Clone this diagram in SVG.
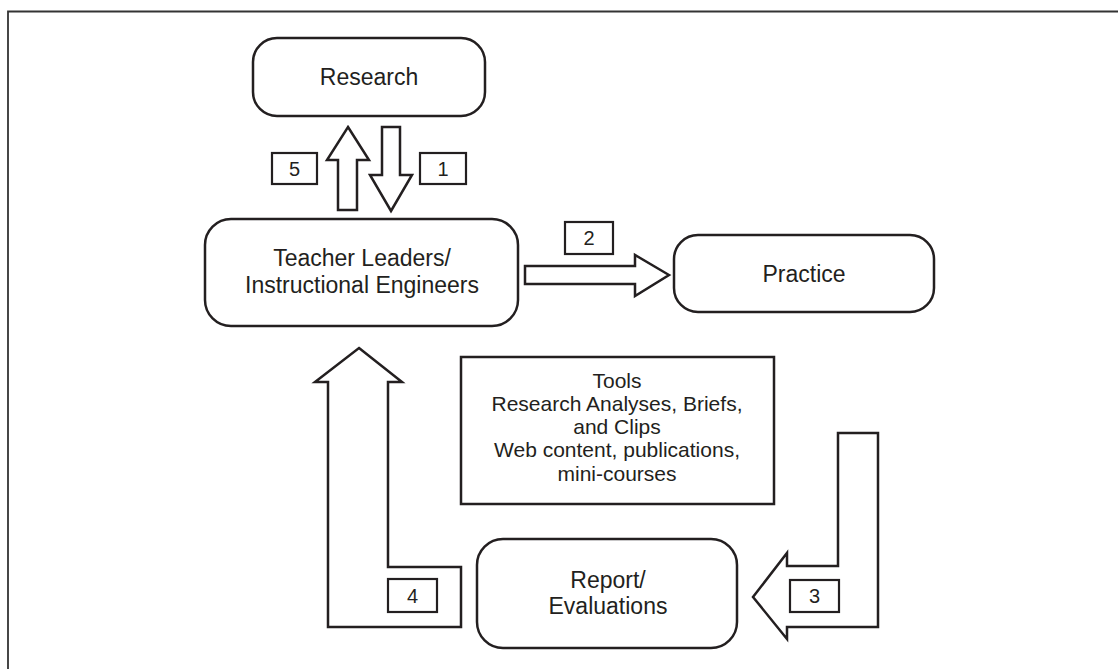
<svg xmlns="http://www.w3.org/2000/svg" width="1118" height="669" viewBox="0 0 1118 669">
<style>
.n{fill:#fff;stroke:#231f20;stroke-width:2.5}
.a{fill:#fff;stroke:#231f20;stroke-width:2.5;stroke-linejoin:miter}
.b{fill:#fff;stroke:#231f20;stroke-width:2.2}
.t{font-family:"Liberation Sans",Arial,sans-serif;font-size:23px;fill:#231f20;text-anchor:middle}
.s{font-family:"Liberation Sans",Arial,sans-serif;font-size:21px;fill:#231f20;text-anchor:middle}
.k{font-family:"Liberation Sans",Arial,sans-serif;font-size:20px;fill:#231f20;text-anchor:middle}
</style>
<rect width="1118" height="669" fill="#fff"/>
<path d="M8,669 L8,11.5 L1118,11.5" fill="none" stroke="#333" stroke-width="1.8"/>
<g id="research"><rect class="n" x="253" y="38" width="232" height="78" rx="24"/><text class="t" x="369" y="85">Research</text></g>
<g id="teacher"><rect class="n" x="205" y="219" width="313" height="107" rx="26"/><text class="t" x="362" y="266">Teacher Leaders/</text><text class="t" x="362" y="293">Instructional Engineers</text></g>
<g id="practice"><rect class="n" x="674" y="235" width="260" height="77" rx="24"/><text class="t" x="804" y="282">Practice</text></g>
<g id="tools"><rect class="n" x="461" y="357" width="313" height="147"/><text class="s" x="617" y="388">Tools</text><text class="s" x="617" y="411">Research Analyses, Briefs,</text><text class="s" x="617" y="434">and Clips</text><text class="s" x="617" y="457">Web content, publications,</text><text class="s" x="617" y="481">mini-courses</text></g>
<g id="report"><rect class="n" x="477" y="539" width="260" height="109" rx="26"/><text class="t" x="608" y="588">Report/</text><text class="t" x="608" y="614">Evaluations</text></g>
<g id="connectors">
<path class="a" d="M348,127 L369,160 L357,160 L357,210 L338,210 L338,160 L327,160 Z"/>
<path class="a" d="M391,211 L412,175 L400,175 L400,127 L382,127 L382,175 L370,175 Z"/>
<path class="a" d="M669,275 L635,255 L635,266 L525,266 L525,284 L635,284 L635,296 Z"/>
<path class="a" d="M838,433 L878,433 L878,627 L787,627 L787,639 L753,597 L787,553 L787,566 L838,566 Z"/>
<path class="a" d="M359,348 L402,382 L388,382 L388,567 L461,567 L461,627 L328,627 L328,382 L315,382 Z"/>
<g id="label5"><rect class="b" x="272" y="153" width="45" height="31"/><text class="k" x="294.5" y="176">5</text></g>
<g id="label1"><rect class="b" x="420" y="153" width="46" height="31"/><text class="k" x="443" y="176">1</text></g>
<g id="label2"><rect class="b" x="565" y="222" width="48" height="32"/><text class="k" x="589" y="245">2</text></g>
<g id="label3"><rect class="b" x="790" y="580" width="49" height="32"/><text class="k" x="814.5" y="603">3</text></g>
<g id="label4"><rect class="b" x="388" y="579" width="49" height="33"/><text class="k" x="412.5" y="603">4</text></g>
</g>
</svg>
